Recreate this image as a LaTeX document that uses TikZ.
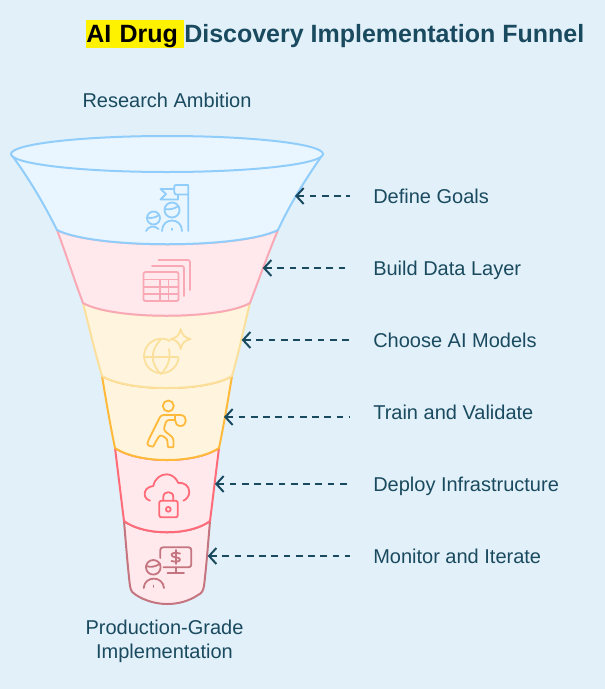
\documentclass[tikz,border=0pt]{standalone}
\usepackage{fontspec}
\setmainfont{Liberation Sans}
\usetikzlibrary{arrows.meta}

\definecolor{bgblue}{HTML}{E2F1F9}
\definecolor{inkteal}{HTML}{1A4A5F}
\definecolor{skyline}{HTML}{90CDFB}
\definecolor{skyfill}{HTML}{E9F6FF}
\definecolor{pinkline}{HTML}{F8A9B5}
\definecolor{pinkfill}{HTML}{FFE9EC}
\definecolor{sandline}{HTML}{FBDF9C}
\definecolor{sandfill}{HTML}{FFF5DE}
\definecolor{amberline}{HTML}{FFB93B}
\definecolor{redline}{HTML}{FF6B78}
\definecolor{roseline}{HTML}{C4757F}

\tikzset{
  seg/.style={line width=1.5pt, line join=round},
  iconline/.style={line width=1.35pt, line cap=round, line join=round},
  steptext/.style={anchor=west, inner sep=0pt, text height=14pt, text depth=3pt, text=inkteal, font=\fontsize{15}{18}\selectfont},
  endtext/.style={align=center, inner sep=0pt, text=inkteal, font=\fontsize{15}{18}\selectfont},
  titletext/.style={anchor=west, inner xsep=0pt, inner ysep=1pt, text height=15.75pt, text depth=3.25pt, font=\fontsize{18.75}{22}\selectfont\bfseries},
  pointer/.style={{Straight Barb[length=5.5pt,width=12pt,line width=1.5pt]}-, line width=1.5pt, draw=inkteal, dash pattern=on 5pt off 4.2pt, shorten >=17.25pt}
}

\begin{document}
\begin{tikzpicture}[x=0.75pt, y=-0.75pt]
  \fill[bgblue] (0,0) rectangle (605,689);
  \useasboundingbox (0,0) rectangle (605,689);

  % Title
  \node[titletext, fill=yellow, text=black, text width=73.5pt] (titlemark) at (86,34) {AI Drug};
  \node[titletext, text=inkteal] (titlerest) at (184,34) {Discovery Implementation Funnel};

  % Funnel, from the bottom up
  \draw[seg, draw=roseline, fill=pinkfill] (124,521) .. controls (126,545) and (128,570) .. (130,586) .. controls (131,592) and (133,593) .. (136,595) .. controls (155,607) and (180,607) .. (198,595) .. controls (202,593) and (203,591) .. (204,586) .. controls (206,570) and (208,545) .. (210,521) .. controls (190,536) and (144,536) .. (124,521) -- cycle;
  \draw[seg, draw=redline, fill=pinkfill] (115,448) .. controls (118,472) and (121,497) .. (124,521) .. controls (144,536) and (190,536) .. (210,521) .. controls (213,497) and (216,472) .. (219,448) .. controls (195,464) and (139,464) .. (115,448) -- cycle;
  \draw[seg, draw=amberline, fill=sandfill] (102,376) .. controls (106,400) and (110,424) .. (115,448) .. controls (139,464) and (195,464) .. (219,448) .. controls (224,424) and (228,400) .. (232,376) .. controls (205,392) and (129,392) .. (102,376) -- cycle;
  \draw[seg, draw=sandline, fill=sandfill] (83,303) .. controls (89,327) and (95,352) .. (102,376) .. controls (129,392) and (205,392) .. (232,376) .. controls (239,352) and (244,327) .. (250,303) .. controls (220,320) and (113,320) .. (83,303) -- cycle;
  \draw[seg, draw=pinkline, fill=pinkfill] (57,230) .. controls (66,254) and (74,279) .. (83,303) .. controls (113,320) and (220,320) .. (250,303) .. controls (259,279) and (268,254) .. (278,230) .. controls (240,249) and (95,249) .. (57,230) -- cycle;
  \draw[seg, draw=skyline, fill=skyfill] (11,154) .. controls (30,180) and (44,204) .. (57,230) .. controls (95,249) and (240,249) .. (278,230) .. controls (290,204) and (305,180) .. (323,154) -- cycle;
  \draw[seg, draw=skyline, fill=skyfill] (167,154) ellipse [x radius=156, y radius=18];

  % Goals icon
  \draw[iconline, draw=skyline] (188.3,231) -- (188.3,185) -- (176,185) .. controls (174.5,185) and (174.3,186) .. (174.3,187) -- (174.3,192) .. controls (174.3,193.5) and (175,194.5) .. (176,194.5) -- (188.3,194.5);
  \draw[iconline, draw=skyline] (174.3,189) -- (160.5,189) -- (166,194) -- (160.5,199.5) -- (178,199.5) -- (178,194.5);
  \draw[iconline, draw=skyline] (172,210) circle [radius=7.5];
  \draw[iconline, draw=skyline] (164.8,209) .. controls (169,210) and (174,209) .. (178.5,206);
  \draw[iconline, draw=skyline] (153.5,218) circle [radius=6.5];
  \draw[iconline, draw=skyline] (147.2,217.5) .. controls (151,218.5) and (155,218) .. (159,215);
  \draw[iconline, draw=skyline] (162,231) .. controls (162,217) and (182,217) .. (182,231);
  \draw[iconline, draw=skyline] (146,231) .. controls (148,226) and (155,225) .. (158.5,229);
  \draw[iconline, draw=skyline] (172,228.5) -- (172,230);

  % Data layer icon
  \draw[iconline, draw=pinkline, rounded corners=1.5pt] (143.5,272) rectangle (178.5,301);
  \draw[iconline, draw=pinkline] (143.5,279.5) -- (178.5,279.5);
  \draw[iconline, draw=pinkline] (143.5,287) -- (178.5,287);
  \draw[iconline, draw=pinkline] (143.5,294) -- (178.5,294);
  \draw[iconline, draw=pinkline] (160,279.5) -- (160,301);
  \draw[iconline, draw=pinkline] (168.5,279.5) -- (168.5,301);
  \draw[iconline, draw=pinkline, rounded corners=1.5pt] (152,266) -- (184,266) -- (184,296);
  \draw[iconline, draw=pinkline, rounded corners=1.5pt] (158.5,260) -- (190,260) -- (190,290);

  % AI models icon
  \draw[iconline, draw=sandline] (170,341) arc [start angle=-60, end angle=-354, radius=17.3];
  \draw[iconline, draw=sandline] (144,356.7) -- (178,356.7);
  \draw[iconline, draw=sandline] (161,339.4) .. controls (150,350) and (150,364) .. (161,374) .. controls (168,367) and (171,358) .. (169,349);
  \draw[iconline, draw=sandline] (180.7,329) .. controls (182,335) and (185,338) .. (190.7,339) .. controls (185,340) and (182,343) .. (180.7,349) .. controls (179.5,343) and (176.5,340) .. (170.7,339) .. controls (176.5,338) and (179.5,335) .. (180.7,329) -- cycle;

  % Training icon
  \draw[iconline, draw=amberline] (168.3,406) circle [radius=5.5];
  \draw[iconline, draw=amberline, rounded corners=2pt] (181,415) -- (161,415) -- (148,441) .. controls (147,446) and (153,447) .. (154.5,444) -- (160,434.5) -- (167.5,439) -- (167.5,444) .. controls (168,447.5) and (173.5,447.5) .. (173.5,444) -- (173.5,438) -- (163.5,430) -- (166.5,420) -- (175,420);
  \draw[iconline, draw=amberline] (181,415) .. controls (188,416) and (187,426) .. (180.5,426) .. controls (177,426) and (175,423) .. (175,420) -- (175,415);

  % Infrastructure icon
  \draw[iconline, draw=redline] (150,500.7) .. controls (145,499) and (144,495) .. (145,492) .. controls (146,488) and (150,486.5) .. (153.3,486) .. controls (155,478) and (161,474.3) .. (166.7,474.3) .. controls (172,474.3) and (176,478) .. (178.3,483) .. controls (184,482) and (189.3,486) .. (189.3,492) .. controls (189.3,496) and (186.5,499.5) .. (183.3,500.7);
  \draw[iconline, draw=redline, rounded corners=1.5pt] (159.3,500.7) rectangle (177.7,517.3);
  \draw[iconline, draw=redline] (163.3,500.7) -- (163.3,497) .. controls (163.3,490.5) and (173.3,490.5) .. (173.3,497) -- (173.3,500.7);
  \draw[iconline, draw=redline] (168.3,509.3) circle [radius=2.4];

  % Monitoring icon
  \draw[iconline, draw=roseline, rounded corners=2pt] (160.3,558) -- (160.3,547.3) -- (191.3,547.3) -- (191.3,567.3) -- (163.5,567.3);
  \draw[iconline, draw=roseline] (175.7,567.3) -- (175.7,573.3);
  \draw[iconline, draw=roseline] (167.5,573.3) -- (184,573.3);
  \draw[iconline, draw=roseline] (175.7,550) -- (175.7,564);
  \draw[iconline, draw=roseline] (180,553.5) .. controls (176,552.5) and (171.5,552.5) .. (171.5,555) .. controls (171.5,558) and (180,556.5) .. (180,559.5) .. controls (180,562) and (175,562) .. (171.5,561);
  \draw[iconline, draw=roseline] (153.3,567.3) circle [radius=7.3];
  \draw[iconline, draw=roseline] (146.2,566) .. controls (150,567.5) and (156,567) .. (160,563.5);
  \draw[iconline, draw=roseline] (143.7,588) .. controls (144.5,575.5) and (163,575.5) .. (164,588);
  \draw[iconline, draw=roseline] (153.5,585.5) -- (153.5,587);

  % End labels
  \node[endtext] (ambition) at (167,100) {Research Ambition};
  \node[endtext] (production) at (164.5,641) {Production-Grade\\Implementation};

  % Step labels
  \node[steptext] (goallabel) at (373,196) {Define Goals};
  \node[steptext] (datalabel) at (373,268) {Build Data Layer};
  \node[steptext] (modellabel) at (373,340) {Choose AI Models};
  \node[steptext] (trainlabel) at (373,412) {Train and Validate};
  \node[steptext] (deploylabel) at (373,484) {Deploy Infrastructure};
  \node[steptext] (monitorlabel) at (373,556) {Monitor and Iterate};

  % Pointer ends on the funnel
  \coordinate (goaltip) at (295,196);
  \coordinate (datatip) at (262.7,268);
  \coordinate (modeltip) at (241.7,340);
  \coordinate (traintip) at (224,417);
  \coordinate (deploytip) at (215,484);
  \coordinate (monitortip) at (207.7,556);

  % Pointers
  \draw[pointer] (goaltip) -- (goallabel.west |- goaltip);
  \draw[pointer] (datatip) -- (datalabel.west |- datatip);
  \draw[pointer] (modeltip) -- (modellabel.west |- modeltip);
  \draw[pointer] (traintip) -- (trainlabel.west |- traintip);
  \draw[pointer] (deploytip) -- (deploylabel.west |- deploytip);
  \draw[pointer] (monitortip) -- (monitorlabel.west |- monitortip);
\end{tikzpicture}
\end{document}
